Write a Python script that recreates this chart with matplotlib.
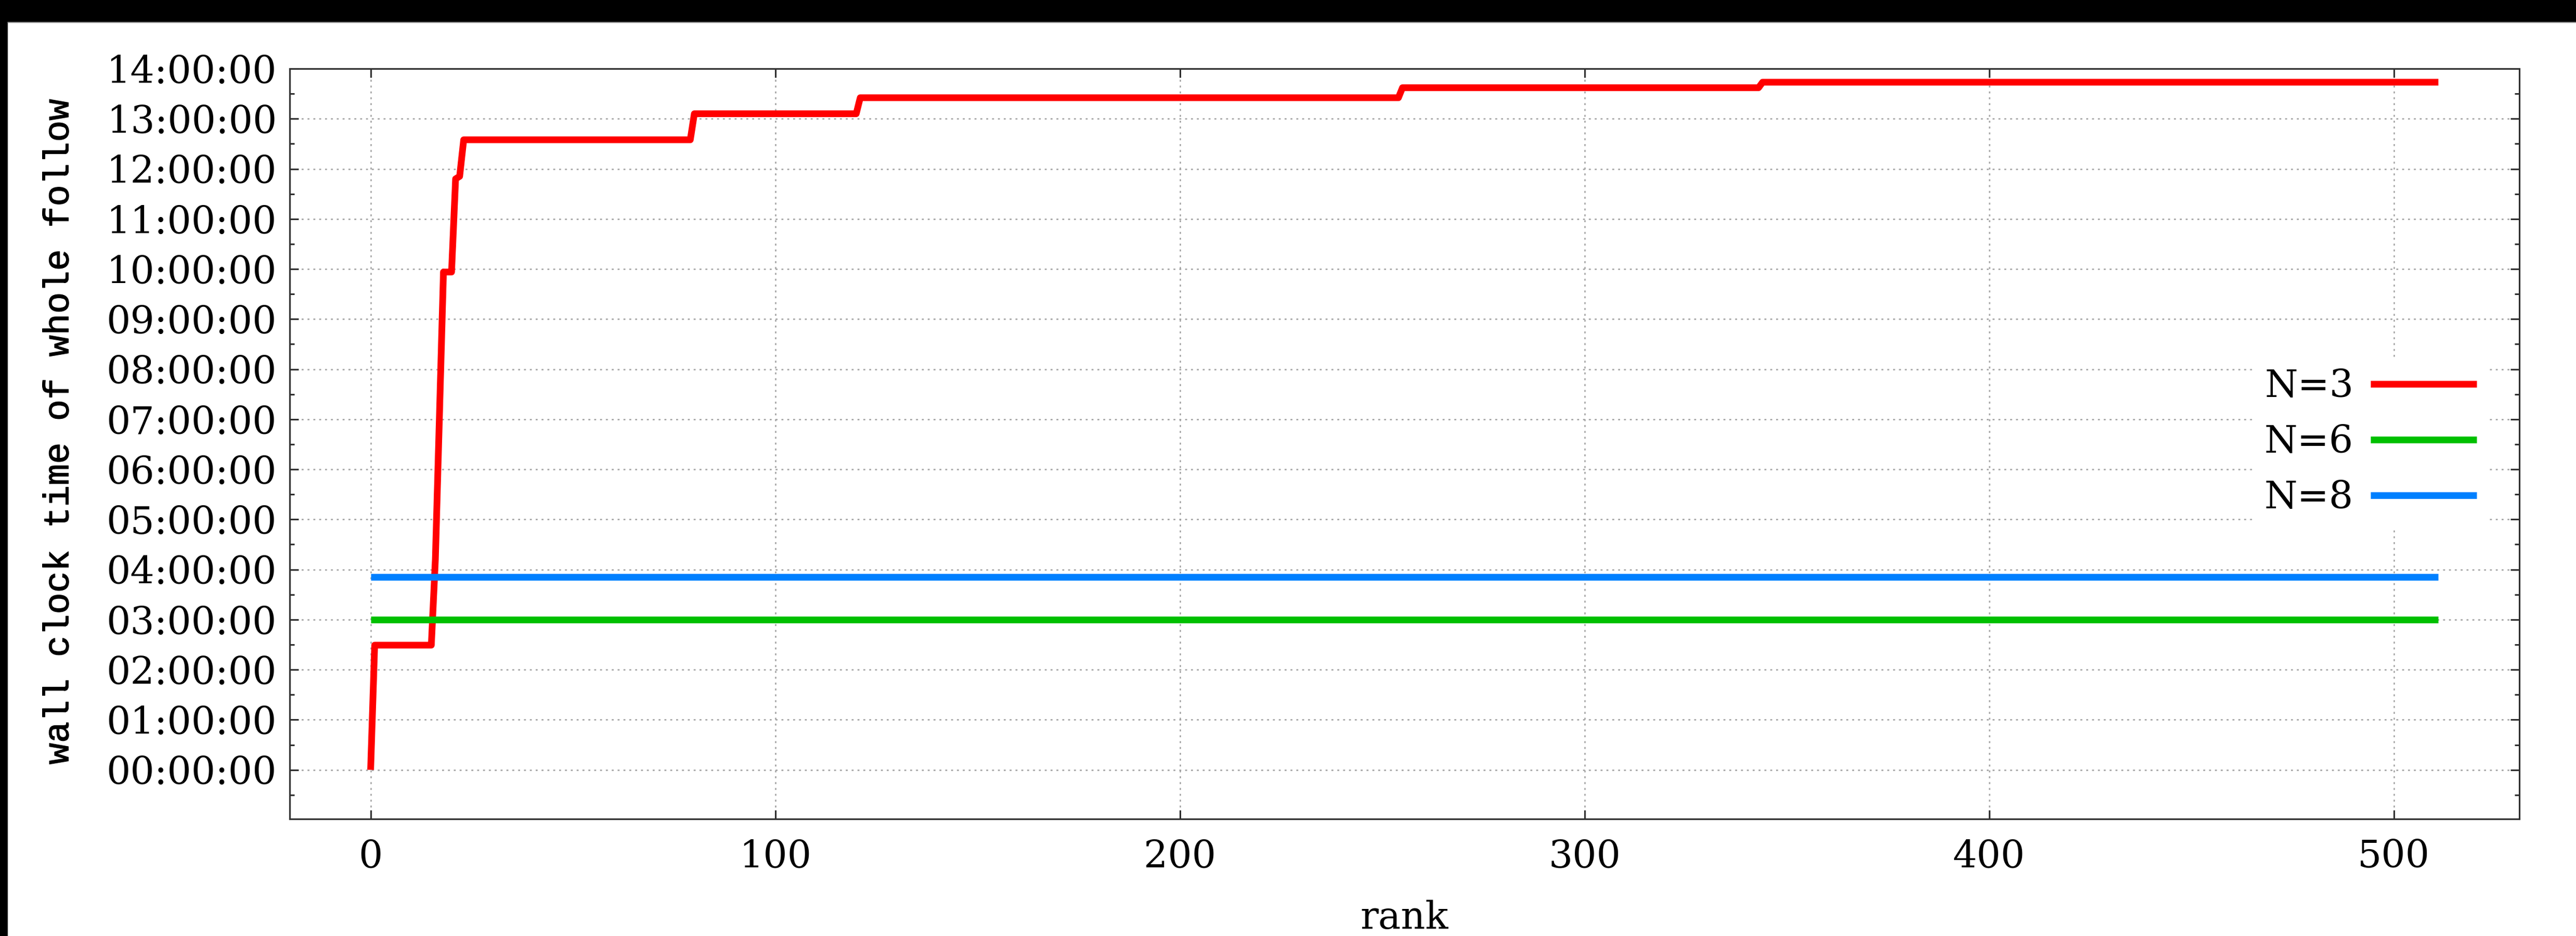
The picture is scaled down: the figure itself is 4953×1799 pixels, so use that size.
import numpy as np
import matplotlib
matplotlib.use("Agg")
import matplotlib.pyplot as plt
import matplotlib.patheffects as pe
from matplotlib.ticker import MultipleLocator, FuncFormatter
from matplotlib.patches import Rectangle

# wall clock time per rank, in hours (sorted by rank)
rank_n3 = [0, 1, 15, 16, 17, 18, 20, 21, 22, 23, 79, 80, 120, 121, 254, 255, 343, 344, 511]
hours_n3 = [0.0, 2.49, 2.49, 4.2, 7.05, 9.94, 9.94, 11.8, 11.85, 12.58, 12.58,
            13.10, 13.10, 13.42, 13.42, 13.62, 13.62, 13.73, 13.73]
rank_n6 = [0, 511]
hours_n6 = [3.0, 3.0]
rank_n8 = [0, 511]
hours_n8 = [3.85, 3.85]

labels = ["N=3", "N=6", "N=8"]
colors = ["#ff0000", "#00c000", "#0080ff"]

SERIF = "DejaVu Serif"
MONO = "Liberation Mono"
FS = 17.5
DPI = 300
W, H = 4953, 1799


def hms(h, pos=None):
    s = int(round(h * 3600))
    return "%02d:%02d:%02d" % (s // 3600, s % 3600 // 60, s % 60)


fig = plt.figure(figsize=(W / DPI, H / DPI), dpi=DPI, facecolor="white")
ax = fig.add_axes([557 / W, 1 - 1574 / H, (4844 - 557) / W, (1574 - 132) / H])

lw = 3.1
ax.plot(rank_n3, hours_n3, color=colors[0], lw=lw, label=labels[0], solid_capstyle="butt", zorder=3)
ax.plot(rank_n6, hours_n6, color=colors[1], lw=lw, label=labels[1], solid_capstyle="butt", zorder=3)
ax.plot(rank_n8, hours_n8, color=colors[2], lw=lw, label=labels[2], solid_capstyle="butt", zorder=3)

ax.set_xlim(-20, 531)
ax.set_ylim(-0.98, 14)

ax.set_xticks(np.arange(0, 501, 100))
ax.set_yticks(np.arange(0, 15, 1))
ax.yaxis.set_minor_locator(MultipleLocator(0.5))
ax.yaxis.set_major_formatter(FuncFormatter(hms))

spine_col = "#303030"
for s in ax.spines.values():
    s.set_color(spine_col)
    s.set_linewidth(0.75)

ax.tick_params(which="both", direction="in", top=True, right=True, color=spine_col, width=0.75)
ax.tick_params(which="major", length=4.1)
ax.tick_params(which="minor", length=2.2)
ax.tick_params(axis="y", pad=6)
ax.tick_params(axis="x", pad=9)
for t in ax.get_xticklabels() + ax.get_yticklabels():
    t.set_fontfamily(SERIF)
    t.set_fontsize(FS)

ax.grid(True, which="major", color="#a0a0a0", lw=0.6, linestyle=(0, (1.5, 3)), zorder=0)
ax.set_axisbelow(True)

ax.set_xlabel("rank", fontfamily=SERIF, fontsize=FS)
ax.xaxis.set_label_coords(0.5, -0.108)
ylab = ax.set_ylabel("wall clock time of whole follow", fontfamily=MONO, fontsize=16.5)
ylab.set_path_effects([pe.withStroke(linewidth=0.3, foreground="black")])
ax.yaxis.set_label_coords(-0.096, 0.516)

leg = ax.legend(loc="center right", bbox_to_anchor=((4784 - 557) / (4844 - 557), (1574 - 850) / (1574 - 132)),
                markerfirst=False, frameon=True, fancybox=False, framealpha=1,
                facecolor="white", edgecolor="none", handlelength=2.8, handletextpad=0.45,
                labelspacing=0.5, borderpad=0.3, borderaxespad=0,
                prop={"family": SERIF, "size": FS})
leg.set_zorder(5)

# dark frame strips along the top and left edges
fig.add_artist(Rectangle((0, 1 - 42 / H), 1, 42 / H, transform=fig.transFigure,
                         facecolor="black", edgecolor="none", zorder=10))
fig.add_artist(Rectangle((0, 0), 15 / W, 1, transform=fig.transFigure,
                         facecolor="black", edgecolor="none", zorder=10))
fig.add_artist(plt.Line2D([15 / W, 1], [1 - 43 / H, 1 - 43 / H], transform=fig.transFigure,
                          color="#707070", lw=0.4, zorder=11))

fig.savefig("out.png", dpi=DPI)
